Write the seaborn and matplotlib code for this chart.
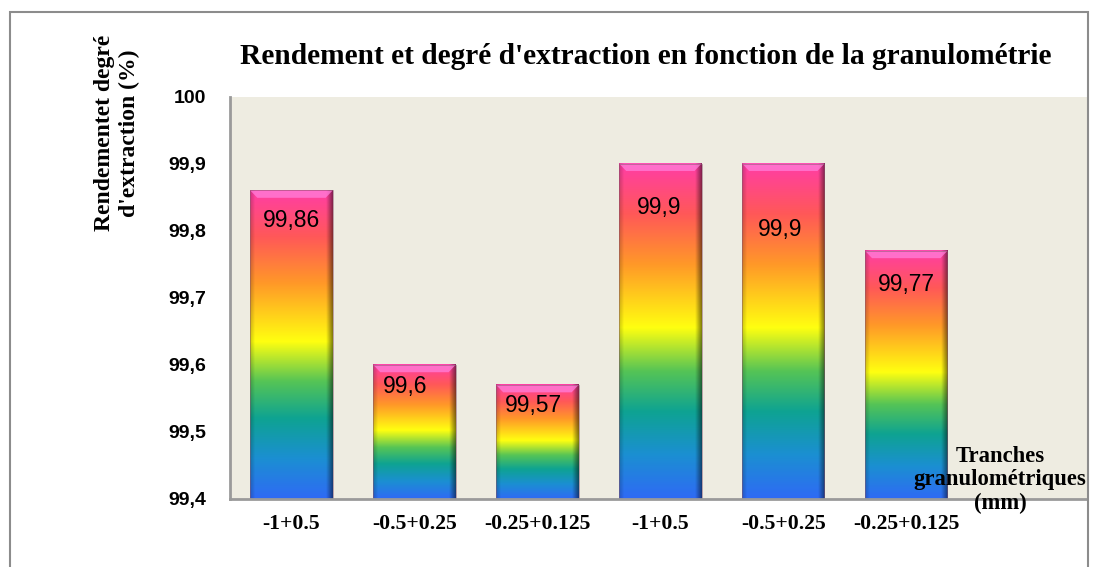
import numpy as np
import pandas as pd
import matplotlib
matplotlib.use("Agg")
import matplotlib.pyplot as plt
import seaborn as sns
from matplotlib.colors import LinearSegmentedColormap
from matplotlib.patches import Rectangle, Polygon

# ---- data ----
categories = ["-1+0.5", "-0.5+0.25", "-0.25+0.125", "-1+0.5", "-0.5+0.25", "-0.25+0.125"]
values = [99.86, 99.6, 99.57, 99.9, 99.9, 99.77]
value_labels = ["99,86", "99,6", "99,57", "99,9", "99,9", "99,77"]
y_ticks = [99.4, 99.5, 99.6, 99.7, 99.8, 99.9, 100.0]
y_tick_labels = ["99,4", "99,5", "99,6", "99,7", "99,8", "99,9", "100"]
title = "Rendement et degré d'extraction en fonction de la granulométrie"
y_label = "Rendementet degré\nd'extraction (%)"
x_label = "Tranches\ngranulométriques\n(mm)"

# label placement (points, relative to bar top centre) - layout only
label_dx = [0, -6.5, -3, -1, -2, 0]
label_dy = [-13.7, -7.2, -6.5, -23, -38.9, -15.8]

slots = [str(i) for i in range(len(categories))]
df = pd.DataFrame({"slot": slots, "value": values})

sns.set_theme(style="white")
plt.rcParams["font.family"] = ["Liberation Sans", "DejaVu Sans"]
plt.rcParams["text.color"] = "black"
plt.rcParams["xtick.color"] = "black"
plt.rcParams["ytick.color"] = "black"
plt.rcParams["axes.labelcolor"] = "black"

fig = plt.figure(figsize=(10.94, 5.67), dpi=100)
ax = fig.add_axes([230 / 1094, 1 - 499 / 567, (1087 - 230) / 1094, (499 - 96.5) / 567])
ax.set_facecolor("#EEECE1")

sns.barplot(data=df, x="slot", y="value", order=slots, ax=ax, width=0.67,
            color="white", errorbar=None, zorder=1)

y0 = 99.4
rainbow = LinearSegmentedColormap.from_list("rb", [
    (0.0, "#2F6AF5"), (0.13, "#1B8FD2"), (0.26, "#0EA392"), (0.38, "#55C456"),
    (0.51, "#FFFF10"), (0.70, "#FF9828"), (0.85, "#FF5858"), (1.0, "#FF3DA6")])
grad = np.linspace(0, 1, 256).reshape(-1, 1)

# horizontal bevel shading
xs = np.linspace(0, 1, 200)
shade_alpha = np.clip(0.2 * (1 - xs / 0.06), 0, None) + np.clip(0.5 * (xs - 0.92) / 0.08, 0, None)
shade = np.zeros((1, 200, 4))
shade[..., 3] = shade_alpha

for patch, v in zip(ax.patches, values):
    x0 = patch.get_x()
    w = patch.get_width()
    patch.set_facecolor("none")
    patch.set_edgecolor("none")
    ax.imshow(grad, cmap=rainbow, origin="lower", aspect="auto",
              extent=[x0, x0 + w, y0, v], zorder=2, interpolation="bilinear")
    ax.imshow(shade, origin="lower", aspect="auto",
              extent=[x0, x0 + w, y0, v], zorder=3, interpolation="bilinear")
    dx = w * 0.085
    dy = 0.011
    ax.add_patch(Polygon([(x0, v), (x0 + w, v), (x0 + w - dx, v - dy), (x0 + dx, v - dy)],
                         closed=True, facecolor="#FF80DA", edgecolor="none",
                         alpha=0.75, zorder=3))
    ax.add_patch(Rectangle((x0, y0), w, v - y0, facecolor="none",
                           edgecolor="#8A5A70", linewidth=0.6, alpha=0.6, zorder=4))

for i, (v, lab) in enumerate(zip(values, value_labels)):
    ax.annotate(lab, (i, v), xytext=(label_dx[i], label_dy[i]), textcoords="offset points",
                ha="center", va="top", fontsize=16.5, color="black", zorder=5,
                family=["Liberation Sans", "DejaVu Sans"])

ax.set_xlim(-0.5, 6.47)
ax.set_ylim(y0, 100.0)
ax.set_yticks(y_ticks)
ax.set_yticklabels(y_tick_labels, fontsize=14, fontweight="bold",
                   family=["Liberation Sans", "DejaVu Sans"])
ax.set_xticks(range(len(categories)))
ax.set_xticklabels(categories, fontsize=15.7, fontweight="bold",
                   family=["Liberation Serif", "DejaVu Serif"])
ax.tick_params(axis="y", length=0, pad=17)
ax.tick_params(axis="x", length=0, pad=10.5)
ax.set_xlabel("")
ax.set_ylabel("")
for s in ["top", "right"]:
    ax.spines[s].set_visible(False)
for s in ["left", "bottom"]:
    ax.spines[s].set_color("#9A9A9A")
    ax.spines[s].set_linewidth(2)
    ax.spines[s].set_zorder(6)

fig.text(646 / 1094, 1 - 56 / 567, title, ha="center", va="center",
         fontsize=21.2, fontweight="bold", family=["Liberation Serif", "DejaVu Serif"])
fig.text(117 / 1094, 1 - 133 / 567, y_label, ha="center", va="center", rotation=90,
         multialignment="center", fontsize=17, fontweight="bold", linespacing=1.25,
         family=["Liberation Serif", "DejaVu Serif"])
fig.text(1000 / 1094, 1 - 480 / 567, x_label, ha="center", va="center",
         multialignment="center", fontsize=16.3, fontweight="bold", linespacing=1.18,
         family=["Liberation Serif", "DejaVu Serif"], zorder=10)

fig.patches.append(Rectangle((10 / 1094, -0.05), (1088 - 10) / 1094, 1 - 12 / 567 + 0.05,
                             transform=fig.transFigure, fill=False,
                             edgecolor="#8C8C8C", linewidth=1.5))

fig.savefig("out.png", dpi=100)
